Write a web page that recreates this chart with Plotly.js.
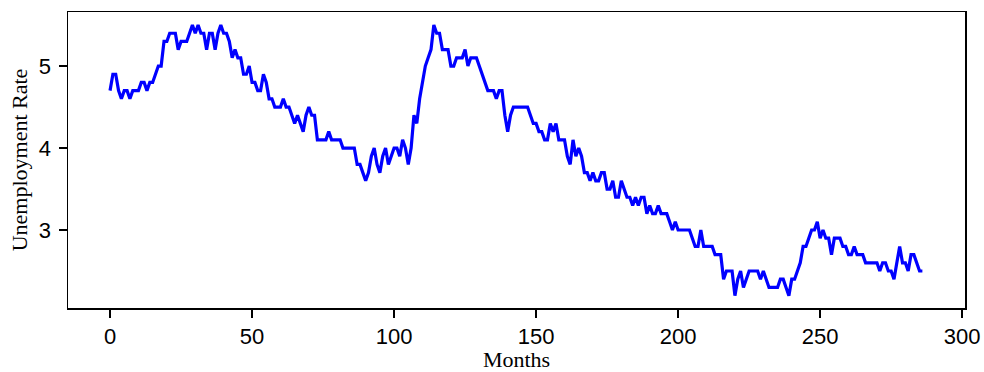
<!DOCTYPE html>
<html>
<head>
<meta charset="utf-8">
<script src="https://cdn.plot.ly/plotly-3.0.1.min.js"></script>
<style>
  html, body { margin: 0; padding: 0; background: #ffffff; }
  #chart { width: 984px; height: 372px; }
</style>
</head>
<body>
<div id="chart"></div>
<script>
// Monthly unemployment rate (%)
const unemploymentRate = [
  4.7,4.9,4.9,4.7,4.6,4.7,4.7,4.6,4.7,4.7,
  4.7,4.8,4.8,4.7,4.8,4.8,4.9,5.0,5.0,5.3,
  5.3,5.4,5.4,5.4,5.2,5.3,5.3,5.3,5.4,5.5,
  5.4,5.5,5.4,5.4,5.2,5.4,5.4,5.2,5.4,5.5,
  5.4,5.4,5.3,5.1,5.2,5.1,5.1,4.9,4.9,5.0,
  4.8,4.8,4.7,4.7,4.9,4.8,4.6,4.6,4.5,4.5,
  4.5,4.6,4.5,4.5,4.4,4.3,4.4,4.3,4.2,4.4,
  4.5,4.4,4.4,4.1,4.1,4.1,4.1,4.2,4.1,4.1,
  4.1,4.1,4.0,4.0,4.0,4.0,4.0,3.8,3.8,3.7,
  3.6,3.7,3.9,4.0,3.8,3.7,3.9,4.0,3.8,3.9,
  4.0,4.0,3.9,4.1,4.0,3.8,4.0,4.4,4.3,4.6,
  4.8,5.0,5.1,5.2,5.5,5.4,5.4,5.2,5.2,5.2,
  5.0,5.0,5.1,5.1,5.1,5.2,5.0,5.1,5.1,5.1,
  5.0,4.9,4.8,4.7,4.7,4.7,4.6,4.7,4.7,4.4,
  4.2,4.4,4.5,4.5,4.5,4.5,4.5,4.5,4.4,4.3,
  4.3,4.2,4.2,4.1,4.1,4.3,4.2,4.3,4.1,4.1,
  4.1,3.9,3.8,4.1,3.9,4.0,3.9,3.7,3.7,3.6,
  3.7,3.6,3.6,3.7,3.7,3.5,3.5,3.6,3.4,3.4,
  3.6,3.5,3.4,3.4,3.3,3.4,3.3,3.4,3.4,3.2,
  3.3,3.2,3.2,3.3,3.2,3.2,3.2,3.1,3.0,3.1,
  3.0,3.0,3.0,3.0,3.0,2.9,2.8,2.8,3.0,2.8,
  2.8,2.8,2.8,2.7,2.7,2.7,2.4,2.5,2.5,2.5,
  2.2,2.4,2.5,2.3,2.4,2.5,2.5,2.5,2.5,2.4,
  2.5,2.4,2.3,2.3,2.3,2.3,2.4,2.4,2.3,2.2,
  2.4,2.4,2.5,2.6,2.8,2.8,2.9,3.0,3.0,3.1,
  2.9,3.0,2.9,2.9,2.7,2.9,2.9,2.9,2.8,2.8,
  2.7,2.7,2.8,2.7,2.7,2.7,2.6,2.6,2.6,2.6,
  2.6,2.5,2.6,2.6,2.5,2.5,2.4,2.6,2.8,2.6,
  2.6,2.5,2.7,2.7,2.6,2.5,2.5
];
const months = unemploymentRate.map((_, i) => i);

const xTickValues = [0, 50, 100, 150, 200, 250, 300];
const yTickValues = [3, 4, 5];

const xTitle = "Months";
const yTitle = "Unemployment Rate";

const trace = {
  x: months,
  y: unemploymentRate,
  type: "scatter",
  mode: "lines",
  line: { color: "#0000ff", width: 3.2 },
  hoverinfo: "skip"
};

const tickFont = { family: "Liberation Sans, Arial, sans-serif", size: 22, color: "#000000" };
const titleFont = { family: "Liberation Serif, Times New Roman, serif", size: 22, color: "#000000" };

const layout = {
  width: 984,
  height: 372,
  margin: { l: 68, r: 19, t: 12, b: 64, pad: 0 },
  paper_bgcolor: "#ffffff",
  plot_bgcolor: "#ffffff",
  showlegend: false,
  xaxis: {
    range: [-14.8, 301.0],
    tickvals: xTickValues,
    ticktext: xTickValues.map(String),
    ticks: "outside",
    ticklen: 8,
    tickwidth: 1.5,
    tickcolor: "#000000",
    showgrid: false,
    zeroline: false,
    showline: true,
    mirror: true,
    linecolor: "#000000",
    linewidth: 1.5,
    tickfont: tickFont,
    title: { text: xTitle, font: titleFont, standoff: 7 },
    automargin: false
  },
  yaxis: {
    range: [2.049, 5.659],
    tickvals: yTickValues,
    ticktext: yTickValues.map(String),
    ticks: "outside",
    ticklen: 8,
    tickwidth: 1.5,
    tickcolor: "#000000",
    showgrid: false,
    zeroline: false,
    showline: true,
    mirror: true,
    linecolor: "#000000",
    linewidth: 1.5,
    tickfont: tickFont,
    ticklabelstandoff: 3,
    title: { text: yTitle, font: titleFont, standoff: 5 },
    automargin: false
  }
};

Plotly.newPlot("chart", [trace], layout, { displayModeBar: false, staticPlot: true });
</script>
</body>
</html>
